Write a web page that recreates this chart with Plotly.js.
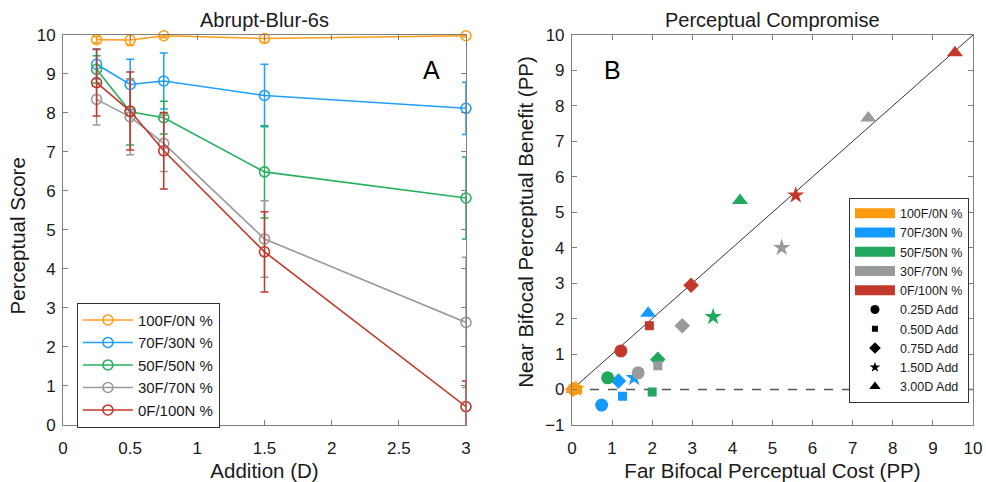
<!DOCTYPE html>
<html>
<head>
<meta charset="utf-8">
<script src="https://cdn.plot.ly/plotly-3.0.1.min.js"></script>
<style>html,body{margin:0;padding:0;background:#fff;}#chart{width:986px;height:482px;}</style>
</head>
<body>
<div id="chart"></div>
<script>
// ---- Data ----
const groups = ['100F/0N %', '70F/30N %', '50F/50N %', '30F/70N %', '0F/100N %'];
const addLabels = ['0.25D Add', '0.50D Add', '0.75D Add', '1.50D Add', '3.00D Add'];
const addition = [0.25, 0.5, 0.75, 1.5, 3];

// Panel A: perceptual score and error half-widths per group
const score100 = [9.88, 9.87, 9.98, 9.91, 9.98];
const err100   = [0.08, 0.14, 0.05, 0.10, 0.03];
const score70  = [9.25, 8.73, 8.82, 8.45, 8.12];
const err70    = [0.38, 0.65, 0.72, 0.80, 0.67];
const score50  = [9.12, 8.03, 7.88, 6.49, 5.82];
const err50    = [0.35, 0.85, 0.42, 1.18, 1.05];
const score30  = [8.35, 7.90, 7.22, 4.77, 2.63];
const err30    = [0.66, 0.97, 0.72, 0.98, 1.67];
const score0   = [8.78, 8.05, 7.03, 4.44, 0.47];
const err0     = [0.86, 1.00, 0.98, 1.03, 0.66];

// Panel B: far cost (x) and near benefit (y) per group, one value per addition
const far100  = [0.05, 0.14, 0.02, 0.10, 0.03];
const near100 = [0.02, 0.00, 0.00, 0.02, 0.00];
const far70   = [0.74, 1.26, 1.16, 1.55, 1.90];
const near70  = [-0.44, -0.19, 0.24, 0.33, 2.15];
const far50   = [0.89, 2.00, 2.14, 3.52, 4.19];
const near50  = [0.33, -0.07, 0.85, 2.05, 5.33];
const far30   = [1.65, 2.14, 2.75, 5.23, 7.39];
const near30  = [0.47, 0.67, 1.80, 4.00, 7.66];
const far0    = [1.22, 1.93, 2.97, 5.58, 9.55];
const near0   = [1.09, 1.80, 2.94, 5.48, 9.50];

// ---- Styles ----
const lineColors = ['#FF9E1B', '#1E9FFF', '#27B05E', '#9A9A9A', '#C0392B'];
const fillColors = ['#FF9A10', '#1499FF', '#22A85E', '#989B9B', '#C2392B'];
const symbols = ['circle', 'square', 'diamond', 'star', 'triangle-up'];
const symSizes = [13, 9, 12, 13, 14];
const legSymSizes = [9, 6, 9, 8, 10];

const scores = [score100, score70, score50, score30, score0];
const errs = [err100, err70, err50, err30, err0];
const fars = [far100, far70, far50, far30, far0];
const nears = [near100, near70, near50, near30, near0];

const traces = [];
// Panel A lines with error bars
groups.forEach((g, i) => {
  traces.push({
    type: 'scatter', mode: 'lines+markers', name: g,
    x: addition, y: scores[i],
    xaxis: 'x', yaxis: 'y', legend: 'legend',
    line: {color: lineColors[i], width: 1.6},
    marker: {symbol: 'circle-open', size: 10, color: lineColors[i], line: {width: 1.6, color: lineColors[i]}},
    error_y: {type: 'data', array: errs[i], visible: true, color: lineColors[i], thickness: 1.5, width: 4},
    cliponaxis: false
  });
});

// Panel B scatter points (one trace per group, symbols by addition)
groups.forEach((g, i) => {
  traces.push({
    type: 'scatter', mode: 'markers', name: g,
    x: fars[i], y: nears[i],
    xaxis: 'x2', yaxis: 'y2', showlegend: false,
    marker: {symbol: symbols, size: symSizes, color: fillColors[i], opacity: 1, line: {width: 0}},
    cliponaxis: false
  });
});
// Panel B legend: colour swatches
groups.forEach((g, i) => {
  traces.push({
    type: 'scatter', mode: 'lines', name: g,
    x: [null], y: [null], xaxis: 'x2', yaxis: 'y2', legend: 'legend2',
    line: {color: fillColors[i], width: 12}
  });
});
// Panel B legend: symbols
addLabels.forEach((a, i) => {
  traces.push({
    type: 'scatter', mode: 'markers', name: a,
    x: [null], y: [null], xaxis: 'x2', yaxis: 'y2', legend: 'legend2',
    marker: {symbol: symbols[i], size: legSymSizes[i], color: '#000'}
  });
});

const font = 'Liberation Sans, Arial, sans-serif';
const axBase = {
  showline: true, linecolor: '#7f7f7f', linewidth: 1, mirror: 'ticks',
  ticks: 'inside', ticklen: 5, tickcolor: '#7f7f7f', tickwidth: 1,
  showgrid: false, zeroline: false, automargin: false,
  tickfont: {size: 17, color: '#1a1a1a', family: font}
};
const titleFont = {size: 20.5, color: '#1a1a1a', family: font};

const layout = {
  width: 986, height: 482,
  margin: {l: 0, r: 0, t: 0, b: 0},
  paper_bgcolor: '#fff', plot_bgcolor: '#fff',
  font: {family: font, color: '#1a1a1a'},
  xaxis: Object.assign({}, axBase, {domain: [0.0639, 0.4726], range: [0, 3], dtick: 0.5, ticklabelstandoff: 8,
    title: {text: 'Addition (D)', font: titleFont}}),
  yaxis: Object.assign({}, axBase, {domain: [0.1183, 0.9274], range: [0, 10], dtick: 1, ticklabelstandoff: 3}),
  xaxis2: Object.assign({}, axBase, {domain: [0.5801, 0.9868], range: [0, 10], dtick: 1, anchor: 'y2', ticklabelstandoff: 8,
    title: {text: 'Far Bifocal Perceptual Cost (PP)', font: titleFont}}),
  yaxis2: Object.assign({}, axBase, {domain: [0.1183, 0.9274], range: [-1, 10], dtick: 1, anchor: 'x2', ticklabelstandoff: 3}),
  legend: {x: 0.078, y: 0.372, xanchor: 'left', yanchor: 'top',
    bgcolor: '#fff', bordercolor: '#333', borderwidth: 1,
    font: {size: 15, family: font, color: '#1a1a1a'}, itemwidth: 50, tracegroupgap: 0},
  legend2: {x: 0.861, y: 0.59, xanchor: 'left', yanchor: 'top',
    bgcolor: '#fff', bordercolor: '#333', borderwidth: 1,
    font: {size: 12.5, family: font, color: '#1a1a1a'}, itemwidth: 40, tracegroupgap: 0},
  shapes: [
    {type: 'line', xref: 'x2', yref: 'y2', x0: 0, y0: 0, x1: 10, y1: 10, line: {color: '#333', width: 1}, layer: 'below'},
    {type: 'line', xref: 'x2', yref: 'y2', x0: 0, y0: 0, x1: 10, y1: 0, line: {color: '#555', width: 1.3, dash: 'dash'}, layer: 'below'}
  ],
  annotations: [
    {text: 'Abrupt-Blur-6s', xref: 'paper', yref: 'paper', x: 0.268, y: 0.9575, xanchor: 'center', yanchor: 'middle', showarrow: false, font: {size: 20, family: font, color: '#1a1a1a'}},
    {text: 'Perceptual Compromise', xref: 'paper', yref: 'paper', x: 0.783, y: 0.9575, xanchor: 'center', yanchor: 'middle', showarrow: false, font: {size: 20, family: font, color: '#1a1a1a'}},
    {text: 'Perceptual Score', xref: 'paper', yref: 'paper', x: 0.0175, y: 0.51, textangle: -90, xanchor: 'center', yanchor: 'middle', showarrow: false, font: titleFont},
    {text: 'Near Bifocal Perceptual Benefit (PP)', xref: 'paper', yref: 'paper', x: 0.5335, y: 0.54, textangle: -90, xanchor: 'center', yanchor: 'middle', showarrow: false, font: titleFont},
    {text: 'A', xref: 'x', yref: 'y', x: 2.74, y: 9.1, xanchor: 'center', yanchor: 'middle', showarrow: false, font: {size: 25, family: font, color: '#000'}},
    {text: 'B', xref: 'x2', yref: 'y2', x: 1.0, y: 9.0, xanchor: 'center', yanchor: 'middle', showarrow: false, font: {size: 25, family: font, color: '#000'}}
  ],
  showlegend: true
};

Plotly.newPlot('chart', traces, layout, {displayModeBar: false, staticPlot: true});
</script>
</body>
</html>
